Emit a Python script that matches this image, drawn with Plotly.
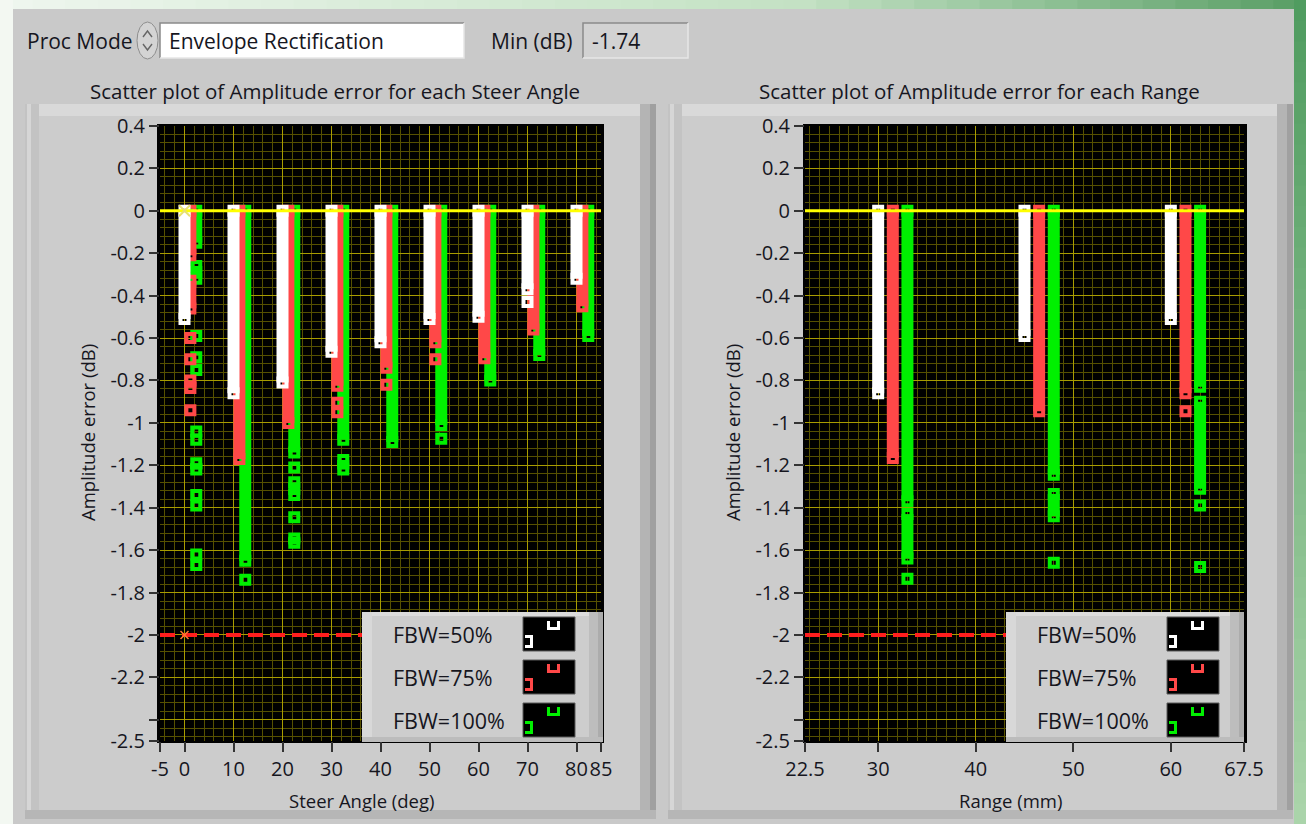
import plotly.graph_objects as go

W, H = 1306, 824

# ---------------- data ----------------
steer_angles = [0, 10, 20, 30, 40, 50, 60, 70, 80]
ranges_mm = [30, 45, 60]
fbw_labels = ["FBW=50%", "FBW=75%", "FBW=100%"]
fbw_colors = ["#ffffff", "#ff4848", "#00f000"]
min_db = -1.74
threshold_db = -2.0
reference_db = 0.0

# densely packed points are listed as (first, last) runs, the rest as single points
steer_fbw50_runs = [[(0, -0.51)], [(0, -0.86)], [(0, -0.81)], [(0, -0.665)], [(0, -0.62)],
                    [(0, -0.51)], [(0, -0.50)], [(0, -0.37)], [(0, -0.32)]]
steer_fbw50_pts = [[], [], [], [], [], [], [], [-0.43], []]

steer_fbw75_runs = [[(0, -0.21), (-0.33, -0.46), (-0.80, -0.835)], [(0, -1.17)], [(0, -1.0)],
                    [(0, -0.825)], [(0, -0.74)], [(0, -0.62)], [(0, -0.695)], [(0, -0.56)], [(0, -0.45)]]
steer_fbw75_pts = [[-0.60, -0.70, -0.94], [], [], [-0.905, -0.95], [-0.82], [-0.70], [], [], []]

steer_fbw100_runs = [[(0, -0.15), (-0.26, -0.32), (-1.19, -1.22)], [(0, -1.65)],
                     [(0, -1.14), (-1.28, -1.34), (-1.545, -1.565)], [(0, -1.08), (-1.175, -1.22)],
                     [(0, -1.09)], [(0, -1.01)], [(0, -0.80)], [(0, -0.68)], [(0, -0.59)]]
steer_fbw100_pts = [[-0.59, -0.69, -0.75, -1.04, -1.08, -1.34, -1.39, -1.62, -1.67], [-1.74],
                    [-1.21, -1.445], [], [], [-1.075], [], [], []]

range_fbw50_runs = [[(0, -0.86)], [(0, -0.59)], [(0, -0.51)]]
range_fbw50_pts = [[], [], []]
range_fbw75_runs = [[(0, -1.165)], [(0, -0.945)], [(0, -0.86)]]
range_fbw75_pts = [[], [], [-0.945]]
range_fbw100_runs = [[(0, -1.37), (-1.43, -1.64)], [(0, -1.245), (-1.335, -1.44)], [(0, -0.83), (-0.90, -1.31)]]
range_fbw100_pts = [[-1.735], [-1.66], [-1.39, -1.68]]

y_tickvals = [0.4, 0.2, 0, -0.2, -0.4, -0.6, -0.8, -1, -1.2, -1.4, -1.6, -1.8, -2, -2.2, -2.4, -2.5]
y_ticktext = ["0.4", "0.2", "0", "-0.2", "-0.4", "-0.6", "-0.8", "-1", "-1.2", "-1.4", "-1.6",
              "-1.8", "-2", "-2.2", "", "-2.5"]
steer_tickvals = [-5, 0, 10, 20, 30, 40, 50, 60, 70, 80, 85]
range_tickvals = [22.5, 30, 40, 50, 60, 67.5]

# ---------------- helpers ----------------
FONT = "Open Sans"
TXT = "#16161e"


def fx(x):
    return x / W


def fy(y):
    return 1 - y / H


shapes = []
annotations = []


def rect(x0, y0, x1, y1, fill, line=None, layer="below", lw=1):
    shapes.append(dict(type="rect", xref="paper", yref="paper",
                       x0=fx(x0), x1=fx(x1), y0=fy(y1), y1=fy(y0),
                       fillcolor=fill, layer=layer,
                       line=dict(width=lw if line else 0, color=line or fill)))


def path(pts, color, width, layer="below", fill=None):
    d = "M" + " L".join(f"{fx(x):.5f},{fy(y):.5f}" for x, y in pts)
    if fill:
        d += " Z"
    shapes.append(dict(type="path", xref="paper", yref="paper", path=d, layer=layer,
                       line=dict(color=color, width=width), fillcolor=fill))


def text(x, y, s, size=21, anchor="left", angle=0, color=TXT):
    annotations.append(dict(x=fx(x), y=fy(y), xref="paper", yref="paper", text=s,
                            showarrow=False, xanchor=anchor, yanchor="middle", textangle=angle,
                            font=dict(family=FONT, size=size, color=color)))


def lerp(c0, c1, t):
    t = max(0.0, min(1.0, t))
    return tuple(round(a + (b - a) * t) for a, b in zip(c0, c1))


def rgb(c):
    return "rgb(%d,%d,%d)" % c


# ---------------- window chrome ----------------
# desktop strip around the panel
n = 40
for i in range(n):
    t = i / (n - 1)
    c = lerp((238, 246, 238), (196, 226, 196), t / 0.6) if t < 0.6 else \
        lerp((200, 228, 200), (92, 160, 104), (t - 0.6) / 0.4)
    rect(W * i / n, 0, W * (i + 1) / n + 1, 9, rgb(c))
rect(0, 0, 13, H, "#f3f8f2")
for i in range(n):
    t = i / (n - 1)
    rect(1294, H * i / n, W, H * (i + 1) / n + 1, rgb(lerp((80, 156, 96), (170, 212, 170), t)))

# Proc Mode ring control
shapes.append(dict(type="circle", xref="paper", yref="paper", x0=fx(137), x1=fx(158),
                   y0=fy(59), y1=fy(22), fillcolor="#d4d4d4", line=dict(color="#8e8e8e", width=1),
                   layer="below"))
path([(143, 37), (147.5, 31), (152, 37)], "#666666", 1.4)
path([(143, 44), (147.5, 50), (152, 44)], "#666666", 1.4)

# text boxes with sunken borders
for x0, x1, fill in [(160, 464, "#ffffff"), (583, 688, "#d2d2d2")]:
    rect(x0, 23, x1, 58, fill)
    path([(x0, 58), (x0, 23), (x1, 23)], "#8a8a8a", 1.5)
    path([(x1, 23), (x1, 58), (x0, 58)], "#e6e6e6", 1.5)

text(25, 41, "Proc Mode")
text(167, 41, "Envelope Rectification")
text(489, 41, "Min (dB)")
text(590, 41, f"{min_db:.2f}")

# graph frames
frames = [(25, 656, 159, 602), (668, 1293, 805, 1245)]
for fx0, fx1, px0, px1 in frames:
    rect(fx0, 104, fx1, 819, "#cccccc")
    rect(fx0, 104, fx1, 116, "#d9d9d9")
    rect(fx0, 104, fx0 + 14, 819, "#c3c3c3")
    rect(fx0 + 2, 104, fx0 + 6, 819, "#d6d6d6")
    rect(fx1 - 16, 104, fx1, 819, "#b4b4b4")
    rect(fx1 - 6, 104, fx1, 819, "#a0a0a0")
    rect(fx0, 810, fx1, 819, "#b6b6b6")
    # plot area
    rect(px0 - 2, 124, px1 + 2, 743, "#000000")

text(335, 91, "Scatter plot of Amplitude error for each Steer Angle", size=20.5, anchor="center")
text(979, 91, "Scatter plot of Amplitude error for each Range", size=20.5, anchor="center")
text(87, 433, "Amplitude error (dB)", size=18.5, anchor="center", angle=-90)
text(732, 433, "Amplitude error (dB)", size=18.5, anchor="center", angle=-90)
text(362, 800, "Steer Angle (deg)", size=18.5, anchor="center")
text(1010, 800, "Range (mm)", size=18.5, anchor="center")

# plot legends (LabVIEW style)
for bx0, bx1 in [(362, 603), (1006, 1244)]:
    rect(bx0, 612, bx1, 742, "#cdcdcd", layer="above")
    rect(bx0, 612, bx1, 616, "#dcdcdc", layer="above")
    rect(bx0, 612, bx0 + 10, 742, "#d8d8d8", layer="above")
    rect(bx1 - 14, 612, bx1, 742, "#bdbdbd", layer="above")
    rect(bx1 - 5, 612, bx1, 742, "#acacac", layer="above")
    rect(bx0, 737, bx1, 742, "#bcbcbc", layer="above")
    for k, (lab, col) in enumerate(zip(fbw_labels, fbw_colors)):
        top = 617 + 43 * k
        sx = bx0 + 161
        rect(sx, top, sx + 52, top + 34, "#000000", line="#5a5a5a", layer="above")
        path([(sx + 25.5, top + 4), (sx + 25.5, top + 11.5), (sx + 35.5, top + 11.5), (sx + 35.5, top + 4)],
             col, 3, layer="above")
        path([(sx + 2, top + 19.5), (sx + 8.5, top + 19.5), (sx + 8.5, top + 29.5), (sx + 2, top + 29.5)],
             col, 3, layer="above")
        text(bx0 + 29, top + 17, lab, size=21.5)

# ---------------- figure ----------------
fig = go.Figure()


def add_series(xs, runs, pts, offset, color, xa, ya):
    lx, ly, mx, my = [], [], [], []
    for x0, rr, pp in zip(xs, runs, pts):
        x = x0 + offset
        for a, b in rr:
            lx += [x, x, None]
            ly += [a, b, None]
            mx += [x, x]
            my += [a, b]
        for v in pp:
            mx.append(x)
            my.append(v)
    fig.add_trace(go.Scatter(x=lx, y=ly, mode="lines", line=dict(color=color, width=12),
                             xaxis=xa, yaxis=ya, hoverinfo="skip", showlegend=False))
    fig.add_trace(go.Scatter(x=mx, y=my, mode="markers", xaxis=xa, yaxis=ya, showlegend=False,
                             marker=dict(symbol="square-open", size=8, color=color,
                                         line=dict(width=4, color=color))))


steer_sets = [(steer_fbw50_runs, steer_fbw50_pts), (steer_fbw75_runs, steer_fbw75_pts),
              (steer_fbw100_runs, steer_fbw100_pts)]
range_sets = [(range_fbw50_runs, range_fbw50_pts), (range_fbw75_runs, range_fbw75_pts),
              (range_fbw100_runs, range_fbw100_pts)]
steer_offsets = [0, 1.2, 2.4]
range_offsets = [0, 1.5, 3.0]

# 100% drawn first so that 75% and 50% sit on top
for k in [2, 1, 0]:
    add_series(steer_angles, *steer_sets[k], steer_offsets[k], fbw_colors[k], "x", "y")
    add_series(ranges_mm, *range_sets[k], range_offsets[k], fbw_colors[k], "x2", "y2")

for xa, ya, (lo, hi) in [("x", "y", (-5, 85)), ("x2", "y2", (22.5, 67.5))]:
    fig.add_trace(go.Scatter(x=[lo, hi], y=[reference_db] * 2, mode="lines", xaxis=xa, yaxis=ya,
                             line=dict(color="#ffff00", width=3), showlegend=False, hoverinfo="skip"))
    fig.add_trace(go.Scatter(x=[lo, hi], y=[threshold_db] * 2, mode="lines", xaxis=xa, yaxis=ya,
                             line=dict(color="#ff1e1e", width=4, dash="15px,7px"),
                             showlegend=False, hoverinfo="skip"))

# cursors
fig.add_trace(go.Scatter(x=[0], y=[reference_db], mode="markers", xaxis="x", yaxis="y", showlegend=False,
                         marker=dict(symbol="x-thin-open", size=11, color="#e8e070",
                                     line=dict(width=2, color="#e8e070"))))
fig.add_trace(go.Scatter(x=[0], y=[threshold_db], mode="markers", xaxis="x", yaxis="y", showlegend=False,
                         marker=dict(symbol="x-thin-open", size=8, color="#ff7a30",
                                     line=dict(width=1.5, color="#ff7a30"))))

GRID = "#a89c00"
MINOR = "#565000"
tickfont = dict(family=FONT, size=20, color=TXT)


def xaxis(domain, rng, tickvals, minor_dtick, anchor):
    return dict(domain=domain, range=rng, tickmode="array", tickvals=tickvals,
                ticktext=[f"{v:g}" for v in tickvals], tickangle=0,
                ticks="outside", ticklen=10, tickwidth=1.5, tickcolor="#333333",
                showgrid=True, gridcolor=GRID, gridwidth=1, zeroline=False, showline=False,
                minor=dict(dtick=minor_dtick, tick0=0, showgrid=True, gridcolor=MINOR, gridwidth=1),
                tickfont=tickfont, anchor=anchor, automargin=False, fixedrange=True)


def yaxis(anchor):
    return dict(domain=[fy(741), fy(126)], range=[-2.5, 0.4], tickmode="array", tickvals=y_tickvals,
                ticktext=y_ticktext, ticks="outside", ticklen=10, tickwidth=1.5, tickcolor="#333333",
                showgrid=True, gridcolor=GRID, gridwidth=1, zeroline=False, showline=False,
                minor=dict(dtick=0.04, tick0=0, showgrid=True, gridcolor=MINOR, gridwidth=1),
                tickfont=tickfont, anchor=anchor, automargin=False, fixedrange=True)


fig.update_layout(
    width=W, height=H, margin=dict(l=0, r=0, t=0, b=0),
    paper_bgcolor="#c9c9c9", plot_bgcolor="#000000",
    xaxis=xaxis([fx(160), fx(601)], [-5, 85], steer_tickvals, 2, "y"),
    yaxis=yaxis("x"),
    xaxis2=xaxis([fx(805), fx(1244)], [22.5, 67.5], range_tickvals, 1, "y2"),
    yaxis2=yaxis("x2"),
    shapes=shapes, annotations=annotations, showlegend=False,
    font=dict(family=FONT, color=TXT),
)

fig.write_html("out.html")
